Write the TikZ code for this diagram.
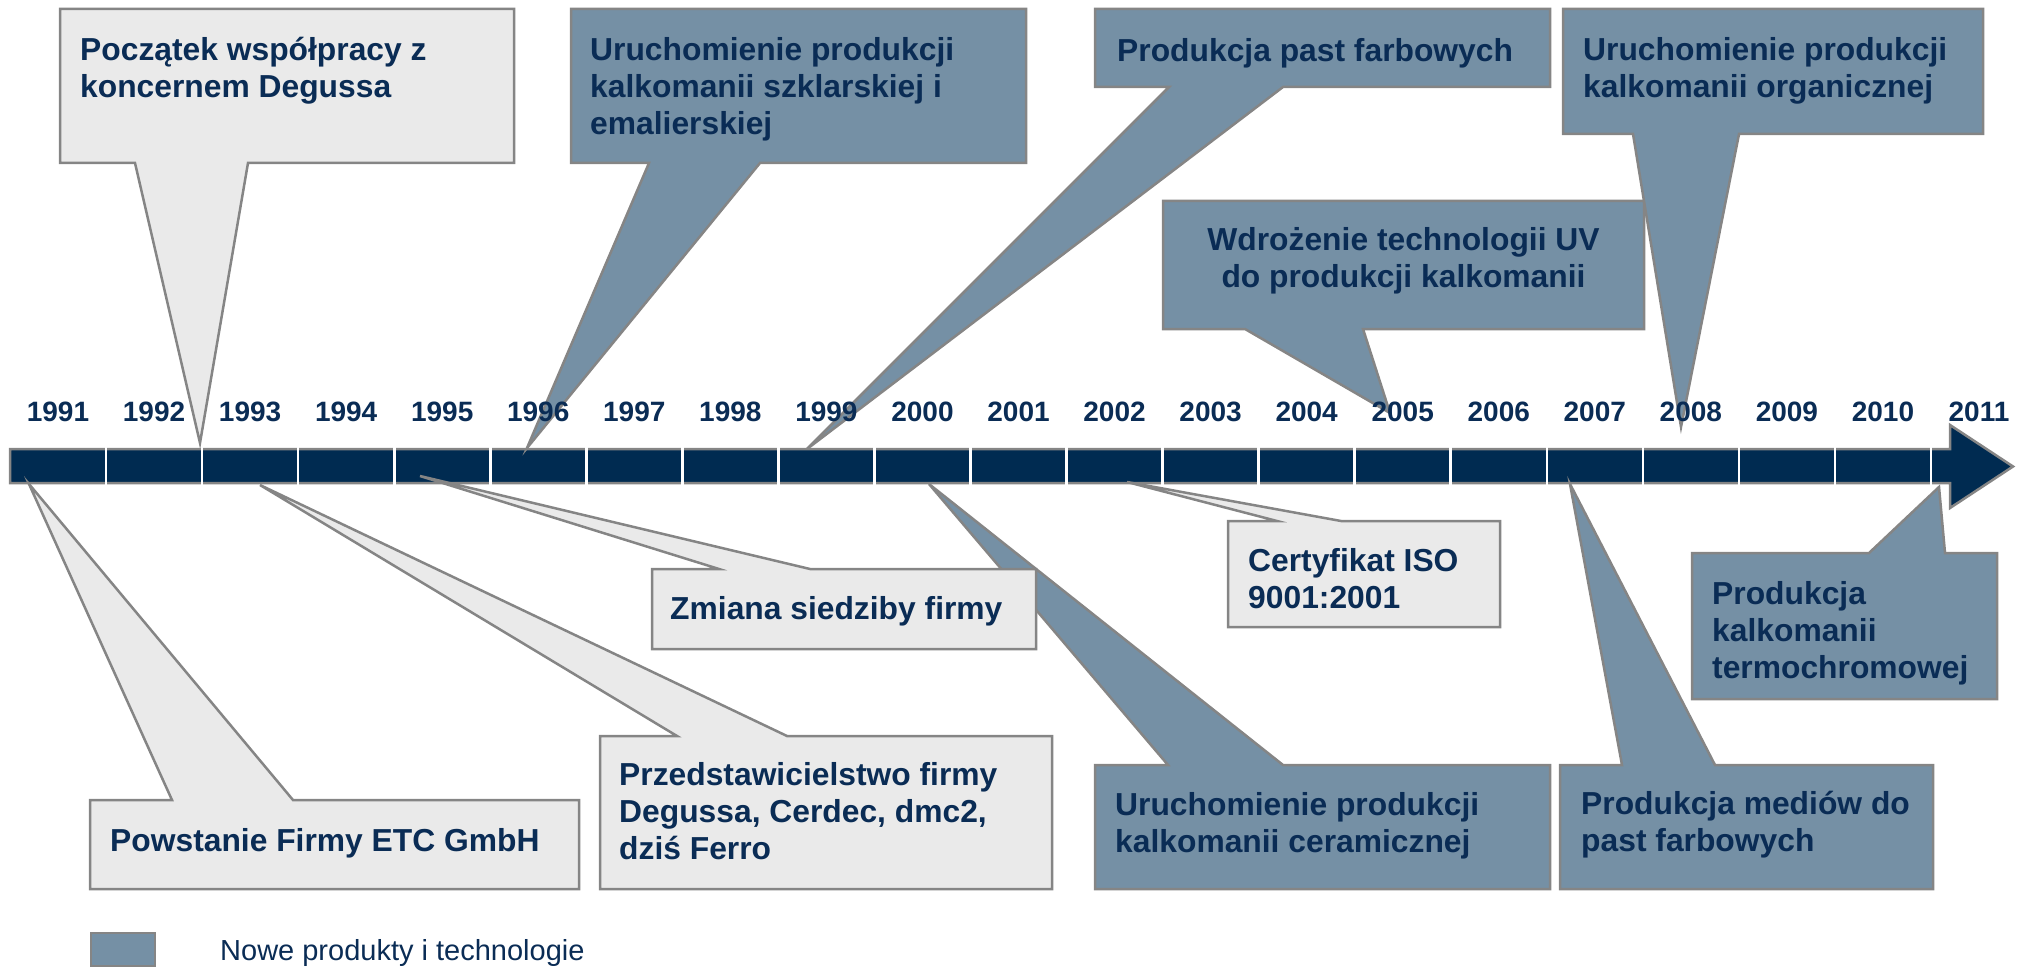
\documentclass[tikz,border=0pt]{standalone}
\usepackage{fontspec}
\setmainfont{Liberation Sans}
\definecolor{navytext}{HTML}{0A2C55}
\definecolor{barnavy}{HTML}{002B51}
\definecolor{darkfill}{HTML}{7590A5}
\definecolor{lightfill}{HTML}{EAEAEA}
\definecolor{bordergray}{HTML}{858585}
\begin{document}
\begin{tikzpicture}[x=1pt,y=-1pt,
  lightcall/.style={fill=lightfill, draw=bordergray, line width=2.5pt, line join=miter},
  darkcall/.style={fill=darkfill, draw=bordergray, line width=2.5pt, line join=miter},
  boxtext/.style={anchor=north west, align=left, inner sep=0pt, text=navytext,
    font=\bfseries\fontsize{31.8}{37}\selectfont, execute at begin node=\strut},
  yearlabel/.style={anchor=base, inner sep=0pt, text=navytext, font=\bfseries\fontsize{28}{32}\selectfont},
  sep/.style={draw=white, line width=2.6pt}]
\useasboundingbox (0,0) rectangle (2031,968);

% timeline bar
\draw[fill=barnavy, draw=bordergray, line width=2.5pt, line join=miter]
  (10,449) -- (1950,449) -- (1950,425) -- (2013,466.5) -- (1950,508) -- (1950,483) -- (10,483) -- cycle;
\foreach \k in {1,...,20}{
  \draw[sep] ({10+96.05*\k},447) -- ({10+96.05*\k},485);
}

% upper callouts
\draw[lightcall] (60,9) -- (514,9) -- (514,163) -- (248,163) -- (200,443) -- (135,163) -- (60,163) -- cycle;
\draw[darkcall] (571,9) -- (1026,9) -- (1026,163) -- (760,163) -- (527,448) -- (649,163) -- (571,163) -- cycle;
\draw[darkcall] (1095,9) -- (1550,9) -- (1550,87) -- (1283,87) -- (807,449) -- (1169,87) -- (1095,87) -- cycle;
\draw[darkcall] (1163,201) -- (1644,201) -- (1644,329) -- (1363,329) -- (1390,413) -- (1245,329) -- (1163,329) -- cycle;
\draw[darkcall] (1563,9) -- (1983,9) -- (1983,134) -- (1739,134) -- (1681,427) -- (1633,134) -- (1563,134) -- cycle;

% lower callouts
\draw[lightcall] (90,889) -- (90,800) -- (172,800) -- (29,484) -- (293,800) -- (579,800) -- (579,889) -- cycle;
\draw[lightcall] (600,889) -- (600,736) -- (677,736) -- (260,485) -- (787,736) -- (1052,736) -- (1052,889) -- cycle;
\draw[darkcall] (1095,889) -- (1095,765) -- (1168,765) -- (929,484) -- (1283,765) -- (1550,765) -- (1550,889) -- cycle;
\draw[lightcall] (652,649) -- (652,569) -- (719,569) -- (420,476) -- (810,569) -- (1036,569) -- (1036,649) -- cycle;
\draw[lightcall] (1228,627) -- (1228,521) -- (1277,521) -- (1127,482) -- (1341,521) -- (1500,521) -- (1500,627) -- cycle;
\draw[darkcall] (1560,889) -- (1560,765) -- (1622,765) -- (1570,484) -- (1715,765) -- (1933,765) -- (1933,889) -- cycle;
\draw[darkcall] (1692,699) -- (1692,553) -- (1869,553) -- (1939,487) -- (1945,553) -- (1997,553) -- (1997,699) -- cycle;

% year labels
\foreach \y [count=\i from 0] in {1991,1992,1993,1994,1995,1996,1997,1998,1999,2000,2001,2002,2003,2004,2005,2006,2007,2008,2009,2010,2011}{
  \node[yearlabel] (y\y) at ({58+96.05*\i},421.5) {\y};
}

% texts
\node[boxtext] (t1) at (80,{63-25.9}) {Początek współpracy z\\koncernem Degussa};
\node[boxtext] (t2) at (590,{63-25.9}) {Uruchomienie produkcji\\kalkomanii szklarskiej i\\emalierskiej};
\node[boxtext] (t3) at (1117,{61-25.9}) {Produkcja past farbowych};
\node[boxtext] (t4) at (1583,{63-25.9}) {Uruchomienie produkcji\\kalkomanii organicznej};
\node[boxtext, anchor=north, align=center] (t5) at (1403.5,{253-25.9}) {Wdrożenie technologii UV\\do produkcji kalkomanii};
\node[boxtext] (t6) at (110,{851-25.9}) {Powstanie Firmy ETC GmbH};
\node[boxtext] (t7) at (619,{788-25.9}) {Przedstawicielstwo firmy\\Degussa, Cerdec, dmc2,\\dziś Ferro};
\node[boxtext] (t8) at (670,{619-25.9}) {Zmiana siedziby firmy};
\node[boxtext] (t9) at (1248,{574-25.9}) {Certyfikat ISO\\9001:2001};
\node[boxtext] (t10) at (1115,{818-25.9}) {Uruchomienie produkcji\\kalkomanii ceramicznej};
\node[boxtext] (t11) at (1581,{817-25.9}) {Produkcja mediów do\\past farbowych};
\node[boxtext] (t12) at (1712,{607-25.9}) {Produkcja\\kalkomanii\\termochromowej};

% legend
\draw[darkcall] (91,933) rectangle (155,966);
\node[anchor=base west, inner sep=0pt, text=navytext, font=\fontsize{29}{33}\selectfont] (leg) at (220,960) {Nowe produkty i technologie};
\end{tikzpicture}
\end{document}
